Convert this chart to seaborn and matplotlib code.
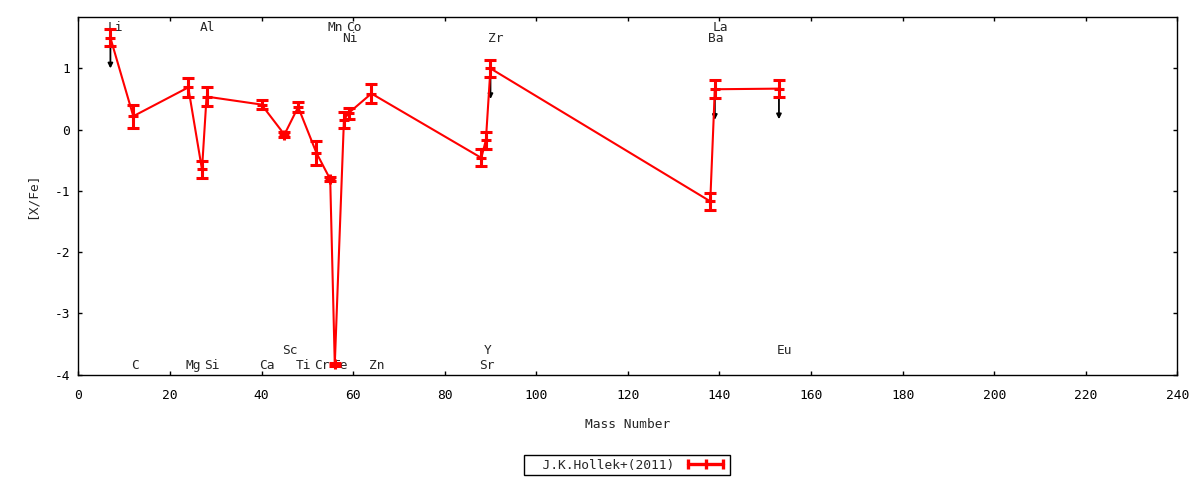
import matplotlib
matplotlib.use("Agg")
import matplotlib.pyplot as plt
from matplotlib.lines import Line2D
import seaborn as sns
import pandas as pd

# abundancias [X/Fe] vs numero masico (J.K.Hollek+ 2011)
elements = ['Li', 'C', 'Mg', 'Al', 'Si', 'Ca', 'Sc', 'Ti', 'Cr', 'Mn',
            'Fe', 'Ni', 'Co', 'Zn', 'Sr', 'Y', 'Zr', 'Ba', 'La', 'Eu']
mass = [7, 12, 24, 27, 28, 40, 45, 48, 52, 55,
        56, 58, 59, 64, 88, 89, 90, 138, 139, 153]
xfe = [1.50, 0.22, 0.69, -0.65, 0.54, 0.41, -0.08, 0.37, -0.38, -0.81,
       -3.83, 0.16, 0.27, 0.59, -0.46, -0.17, 1.00, -1.17, 0.66, 0.67]
xfe_err = [0.14, 0.19, 0.16, 0.14, 0.15, 0.08, 0.04, 0.08, 0.19, 0.03,
           0.02, 0.13, 0.09, 0.15, 0.14, 0.14, 0.14, 0.14, 0.15, 0.14]
upper_limit = ['Li', 'Zr', 'La', 'Eu']
arrow_len = 0.5

# etiquetas de elementos (fila de arriba / abajo)
label_row = {
    'Li': 1.67, 'Al': 1.67, 'Mn': 1.67, 'Co': 1.67, 'La': 1.67,
    'Ni': 1.49, 'Zr': 1.49, 'Ba': 1.49,
    'C': -3.845, 'Mg': -3.845, 'Si': -3.845, 'Ca': -3.845, 'Ti': -3.845,
    'Cr': -3.845, 'Fe': -3.845, 'Zn': -3.845, 'Sr': -3.845,
    'Sc': -3.605, 'Y': -3.605, 'Eu': -3.605,
}

xticks = list(range(0, 241, 20))
yticks = [-4, -3, -2, -1, 0, 1]

df = pd.DataFrame({'element': elements, 'mass': mass, 'xfe': xfe, 'err': xfe_err})

sns.set_style('ticks')
plt.rcParams['font.family'] = ['DejaVu Sans Mono', 'DejaVu Sans']
plt.rcParams['font.size'] = 9.3
plt.rcParams['axes.unicode_minus'] = False

fig = plt.figure(figsize=(12, 4.8), dpi=100)
ax = fig.add_axes([0.0653, 0.2194, 0.9158, 0.7446])

# flechas de limite superior
for _, row in df[df['element'].isin(upper_limit)].iterrows():
    ax.annotate('', xy=(row['mass'], row['xfe'] - arrow_len), xytext=(row['mass'], row['xfe']),
                arrowprops=dict(arrowstyle='-|>', color='black', lw=1.3,
                                mutation_scale=7, shrinkA=0, shrinkB=0),
                zorder=2)

sns.lineplot(data=df, x='mass', y='xfe', sort=False, color='red', lw=1.5,
             marker='+', markersize=7.5, markeredgewidth=2.2,
             markeredgecolor='red', ax=ax, zorder=3)
ax.errorbar(df['mass'], df['xfe'], yerr=df['err'], fmt='none', ecolor='red',
            elinewidth=2.2, capsize=4, capthick=2.2, zorder=3)

for _, row in df.iterrows():
    ax.text(row['mass'] - 0.5, label_row[row['element']], row['element'],
            ha='left', va='center', fontsize=9.3, zorder=1)

ax.set_xlim(0, 240)
ax.set_ylim(-4, 1.835)
ax.set_xticks(xticks)
ax.set_yticks(yticks)
ax.tick_params(direction='in', length=3.2, width=1, top=True, right=True,
               labelsize=9.3, colors='black')
ax.tick_params(axis='x', pad=10)
ax.tick_params(axis='y', pad=6)
for sp in ax.spines.values():
    sp.set_visible(True)
    sp.set_linewidth(1)
    sp.set_color('black')

ax.set_xlabel('Mass Number', fontsize=9.3)
ax.set_ylabel('[X/Fe]', fontsize=9.3)
ax.xaxis.set_label_coords(0.5, -0.121)
ax.yaxis.set_label_coords(-0.036, 0.5)

handle = Line2D([], [], color='red', lw=2.4, marker='|', markersize=6.5,
                markeredgewidth=2.4)
leg = fig.legend([handle], ['  J.K.Hollek+(2011)'], loc='center',
                 bbox_to_anchor=(627 / 1200, 1 - 465 / 480), numpoints=3,
                 markerfirst=False, handlelength=3.3, handletextpad=0.8,
                 borderpad=0.25, fancybox=False, framealpha=1, fontsize=9.3)
leg.get_frame().set_edgecolor('black')
leg.get_frame().set_linewidth(1)

fig.savefig('out.png', dpi=100)
